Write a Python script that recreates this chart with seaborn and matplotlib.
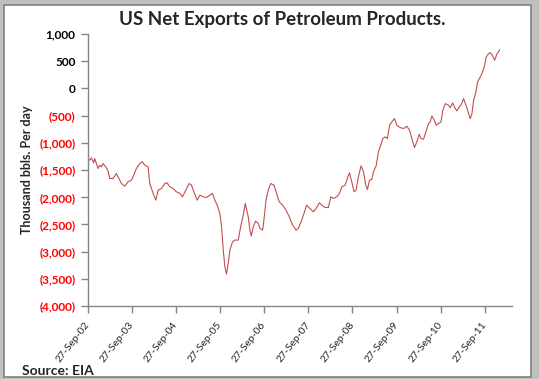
import pandas as pd
import matplotlib
matplotlib.use("Agg")
import matplotlib.pyplot as plt
import matplotlib.dates as mdates
import matplotlib.ticker as mticker
from matplotlib.patches import Rectangle
import seaborn as sns

# --- DATA ---
dates = [
    "2002-09-27", "2002-10-11", "2002-10-25", "2002-11-13", "2002-11-21", "2002-12-19",
    "2003-01-02", "2003-01-16", "2003-01-30", "2003-02-21", "2003-03-12", "2003-03-26",
    "2003-04-23", "2003-05-20", "2003-06-11", "2003-07-01", "2003-07-28", "2003-08-25",
    "2003-09-22", "2003-10-11", "2003-11-02", "2003-11-30", "2003-12-22", "2004-01-10",
    "2004-02-07", "2004-02-21", "2004-03-20", "2004-04-11", "2004-04-30", "2004-05-28",
    "2004-06-24", "2004-07-14", "2004-08-05", "2004-09-02", "2004-09-29", "2004-10-27",
    "2004-11-18", "2004-12-16", "2005-01-12", "2005-02-01", "2005-02-20", "2005-03-20",
    "2005-04-11", "2005-05-09", "2005-06-05", "2005-07-03", "2005-07-25", "2005-08-13",
    "2005-09-02", "2005-09-24", "2005-10-08", "2005-10-22", "2005-11-04", "2005-11-18",
    "2005-12-02", "2005-12-16", "2006-01-07", "2006-01-26", "2006-02-23", "2006-03-15",
    "2006-04-06", "2006-04-22", "2006-05-17", "2006-05-31", "2006-06-11", "2006-06-28",
    "2006-07-17", "2006-08-08", "2006-08-22", "2006-09-13", "2006-09-24", "2006-10-11",
    "2006-10-30", "2006-11-19", "2006-12-16", "2007-01-07", "2007-01-29", "2007-02-26",
    "2007-03-26", "2007-04-22", "2007-05-20", "2007-06-17", "2007-07-06", "2007-08-03",
    "2007-08-22", "2007-09-13", "2007-10-11", "2007-11-08", "2007-11-30", "2007-12-28",
    "2008-01-16", "2008-02-13", "2008-03-11", "2008-03-31", "2008-04-22", "2008-05-19",
    "2008-06-11", "2008-06-30", "2008-07-28", "2008-08-10", "2008-09-02", "2008-09-21",
    "2008-10-10", "2008-10-27", "2008-11-15", "2008-12-07", "2008-12-27", "2009-01-15",
    "2009-01-29", "2009-02-15", "2009-03-06", "2009-03-20", "2009-04-11", "2009-04-30",
    "2009-05-14", "2009-06-05", "2009-06-25", "2009-07-14", "2009-07-31", "2009-08-19",
    "2009-09-10", "2009-09-29", "2009-10-27", "2009-11-24", "2009-12-21", "2010-01-13",
    "2010-02-01", "2010-02-23", "2010-03-14", "2010-04-03", "2010-04-17", "2010-05-09",
    "2010-05-28", "2010-06-19", "2010-07-03", "2010-07-17", "2010-08-05", "2010-08-22",
    "2010-09-10", "2010-09-30", "2010-10-16", "2010-11-05", "2010-12-02", "2010-12-16",
    "2011-01-05", "2011-01-27", "2011-02-09", "2011-03-01", "2011-03-15", "2011-04-06",
    "2011-04-20", "2011-05-03", "2011-05-17", "2011-05-31", "2011-06-14", "2011-06-28",
    "2011-07-14", "2011-07-31", "2011-08-22", "2011-09-05", "2011-09-24", "2011-10-11",
    "2011-10-30", "2011-11-13", "2011-11-27", "2011-12-19", "2012-01-08", "2012-01-21",
    "2012-01-30",
]
net_exports = [
    -1289, -1319, -1277, -1368, -1289, -1472,
    -1411, -1442, -1381, -1442, -1515, -1656,
    -1656, -1564, -1656, -1748, -1797, -1717,
    -1687, -1595, -1472, -1381, -1350, -1411,
    -1442, -1748, -1931, -2054, -1870, -1840,
    -1748, -1736, -1809, -1840, -1901, -1931,
    -1993, -1870, -1748, -1778, -1901, -2054,
    -1962, -1993, -2005, -1962, -1931, -2054,
    -2146, -2299, -2543, -2972, -3278, -3413,
    -3217, -2972, -2819, -2788, -2788, -2543,
    -2329, -2115, -2360, -2605, -2715, -2543,
    -2439, -2482, -2574, -2605, -2421, -2054,
    -1870, -1748, -1778, -1931, -2084, -2146,
    -2237, -2360, -2513, -2605, -2574, -2421,
    -2299, -2146, -2207, -2268, -2207, -2103,
    -2146, -2189, -2189, -1993, -2023, -1993,
    -1931, -1809, -1778, -1687, -1552, -1717,
    -1901, -1870, -1625, -1424, -1534, -1778,
    -1858, -1687, -1674, -1534, -1424, -1166,
    -1075, -922, -891, -922, -677, -616,
    -554, -677, -720, -738, -695, -769,
    -922, -1087, -983, -842, -922, -934,
    -799, -646, -616, -506, -585, -677,
    -646, -616, -401, -279, -310, -353,
    -267, -371, -414, -340, -310, -187,
    -279, -353, -463, -554, -463, -218,
    -95, 119, 211, 272, 394, 578,
    639, 657, 621, 517, 639, 670,
    712,
]
tick_dates = ["2002-09-27", "2003-09-27", "2004-09-27", "2005-09-27", "2006-09-27",
              "2007-09-27", "2008-09-27", "2009-09-27", "2010-09-27", "2011-09-27"]
y_ticks = [1000, 500, 0, -500, -1000, -1500, -2000, -2500, -3000, -3500, -4000]

df = pd.DataFrame({"date": pd.to_datetime(dates), "value": net_exports})

# --- STYLE ---
sns.set_style("white")
plt.rcParams["font.family"] = ["Lato", "DejaVu Sans"]

fig = plt.figure(figsize=(5.39, 3.79), dpi=100)
fig.patch.set_facecolor("#c0c0c0")
# white chart area with a grey frame, like the Excel chart border
fig.patches.append(Rectangle((4 / 539, 2 / 379), 527 / 539, 372 / 379,
                             transform=fig.transFigure, facecolor="white",
                             edgecolor="#808080", linewidth=1.2, zorder=-1))

ax = fig.add_axes([88 / 539, 1 - 306 / 379, (512 - 88) / 539, (306 - 34) / 379])
ax.set_zorder(2)
ax.set_facecolor("none")

sns.lineplot(data=df, x="date", y="value", ax=ax, color="#c0504d", linewidth=0.8)

ax.set_ylim(-4000, 1000)
ax.set_xlim(pd.Timestamp("2002-09-27"), pd.Timestamp("2012-05-11"))
ax.set_yticks(y_ticks)


def paren_fmt(v, pos):
    if v < 0:
        return "({:,.0f})".format(-v)
    return "{:,.0f}".format(v)


ax.yaxis.set_major_formatter(mticker.FuncFormatter(paren_fmt))
ax.set_xticks(pd.to_datetime(tick_dates))
ax.xaxis.set_major_formatter(mdates.DateFormatter("%d-%b-%y"))

for lbl, v in zip(ax.get_yticklabels(), ax.get_yticks()):
    lbl.set_color("red" if v < 0 else "black")
    lbl.set_fontweight("bold")
    lbl.set_fontsize(8.5)

plt.setp(ax.get_xticklabels(), rotation=52, ha="right", va="center",
         rotation_mode="anchor", fontsize=7.5)

for side in ["top", "right"]:
    ax.spines[side].set_visible(False)
for side in ["left", "bottom"]:
    ax.spines[side].set_color("#868686")
    ax.spines[side].set_linewidth(1.0)
ax.tick_params(axis="both", which="major", direction="out", length=5, width=1,
               color="#868686", left=True, bottom=True)
ax.tick_params(axis="y", pad=4)
ax.tick_params(axis="x", pad=7)

ax.set_xlabel("")
ax.set_ylabel("Thousand bbls. Per day", fontsize=9, fontweight="bold")
ax.yaxis.set_label_coords(-55 / 424, 0.5)

fig.text(282 / 539, 1 - 20 / 379, "US Net Exports of Petroleum Products.",
         ha="center", va="center", fontsize=13.5, fontweight="bold")
fig.text(22 / 539, 1 - 371 / 379, "Source: EIA", ha="left", va="center",
         fontsize=10, fontweight="bold")

fig.savefig("out.png", dpi=100, facecolor=fig.get_facecolor())
